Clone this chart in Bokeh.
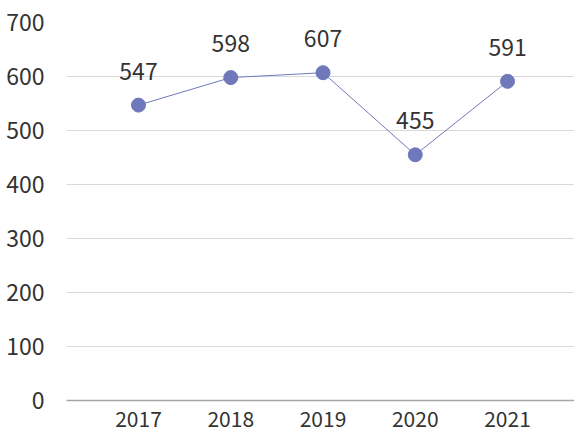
from bokeh.plotting import figure
from bokeh.models import ColumnDataSource, Range1d, FixedTicker
from bokeh.core.properties import value
from bokeh.embed import file_html
from bokeh.resources import INLINE

years = ["2017", "2018", "2019", "2020", "2021"]
counts = [547, 598, 607, 455, 591]
y_ticks = [0, 100, 200, 300, 400, 500, 600, 700]

xs = list(range(len(years)))
src = ColumnDataSource(dict(x=xs, y=counts, label=[str(c) for c in counts]))

FONT = "Noto Sans CJK KR"
COLOR = "#6f78bb"
TXT = "#333333"

p = figure(width=574, height=435, output_backend="svg", toolbar_location=None,
           x_range=Range1d(-0.7805, 4.726), y_range=Range1d(0, 700),
           min_border_left=66, min_border_right=0, min_border_top=22, min_border_bottom=35)
p.outline_line_color = None
p.background_fill_color = "white"
p.border_fill_color = "white"

p.line("x", "y", source=src, line_color=COLOR, line_width=1)
p.scatter("x", "y", source=src, size=14, fill_color=COLOR, line_color=COLOR)
p.text("x", "y", text="label", source=src, y_offset=-34, text_align="center",
       text_baseline="alphabetic", text_font=value(FONT), text_font_size="23px",
       text_color=TXT)

p.xgrid.grid_line_color = None
p.ygrid.grid_line_color = "#d9d9d9"
p.ygrid.grid_line_width = 1

p.xaxis.ticker = FixedTicker(ticks=xs)
p.xaxis.major_label_overrides = {i: y for i, y in enumerate(years)}
p.xaxis.axis_line_color = "#a6a6a6"
p.xaxis.axis_line_width = 1.5
p.xaxis.major_tick_line_color = None
p.xaxis.minor_tick_line_color = None
p.xaxis.major_label_text_font = FONT
p.xaxis.major_label_text_font_size = "21px"
p.xaxis.major_label_text_color = TXT
p.xaxis.major_label_standoff = 4

p.yaxis.ticker = FixedTicker(ticks=y_ticks)
p.yaxis.axis_line_color = None
p.yaxis.major_tick_line_color = None
p.yaxis.minor_tick_line_color = None
p.yaxis.major_label_text_font = FONT
p.yaxis.major_label_text_font_size = "23px"
p.yaxis.major_label_text_color = TXT
p.yaxis.major_label_standoff = 16

open("out.html", "w").write(file_html(p, INLINE))
